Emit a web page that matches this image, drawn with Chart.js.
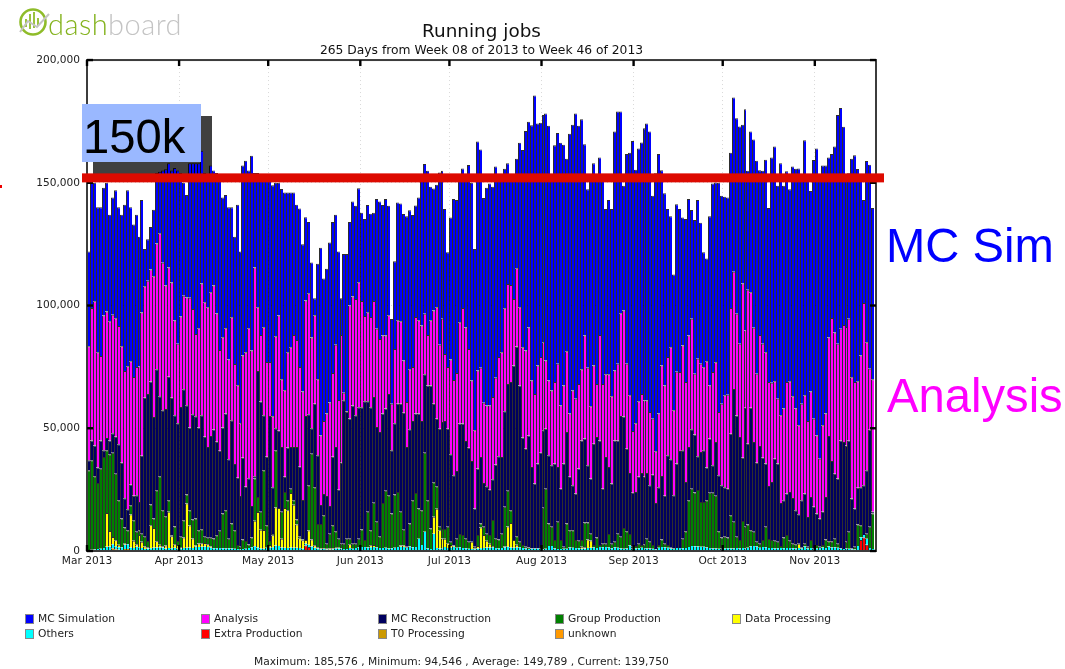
<!DOCTYPE html>
<html>
<head>
<meta charset="utf-8">
<title>Running jobs</title>
<script src="https://cdn.jsdelivr.net/npm/chart.js@4/dist/chart.umd.min.js"></script>
<style>
html,body{margin:0;padding:0;background:#fff;overflow:hidden}
#wrap{position:relative;width:1065px;height:669px}
canvas{position:absolute;left:0;top:0}
.t{position:absolute;white-space:nowrap;font-family:"DejaVu Sans",sans-serif;line-height:1}
.big{font-family:"Liberation Sans",Arial,sans-serif;font-size:47.2px}
.sw{position:absolute;width:9px;height:10px;box-sizing:border-box;border:1px solid #888}
.lg{font-size:10.7px;color:#222}
</style>
</head>
<body>
<div id="wrap">
<canvas id="c" width="1065" height="669"></canvas>
<div class="t big" style="left:83px;top:113px;color:#000">150k</div>
<div class="t big" style="left:886px;top:222px;color:#0000ff">MC Sim</div>
<div class="t big" style="left:887px;top:372px;color:#ff00ff">Analysis</div>
<div class="t" style="left:48px;top:9px;font-family:Lato,sans-serif;font-size:29px;font-weight:300;letter-spacing:.45px"><span style="color:#84b31e">dash</span><span style="color:#c4c4c4">board</span></div>
<div class="t" id="stats" style="left:254px;top:657px;font-size:10.7px;color:#222"></div>
<div id="legend"></div>
</div>
<script>
const titleText = "Running jobs";
const subtitleText = "265 Days from Week 08 of 2013 to Week 46 of 2013";
const statsText = "Maximum: 185,576 , Minimum: 94,546 , Average: 149,789 , Current: 139,750";
const monthLabels = ["Mar 2013","Apr 2013","May 2013","Jun 2013","Jul 2013","Aug 2013","Sep 2013","Oct 2013","Nov 2013"];
const monthStarts = [0,31,61,92,122,153,184,214,245];
const yTicks = [0,50000,100000,150000,200000];

// Height of the whole stack
const totalJobs = [
122,150,150,140,140,148,150,137,144,147,
140,137,141,147,140,133,137,128,143,123,
127,132,139,154,154.5,155,155.5,158,155,156,
155,154,150,145,158,158,158,158,163,154,
153,157,155,154,151,144,145,140,140,128,
141,122,157,159,155,161,154,154,152,152,
152,152,149,150,150,147.5,146,146,146,146,
141,139.5,125,136,134,117.5,103,117,123.5,111,
115,125.7,134,137,122,103,121,121,134,
142.4,140.6,147.8,137.8,135.2,140.9,137.4,137.8,143.4,142.4,
140.9,143.4,140.6,94.5,118,142,141.6,137.3,136.4,138.8,
136.9,140.7,144,150.8,157.6,154.9,148.4,147.7,149.2,154.2,
154.9,139.3,121.7,135.9,143.4,143,152,155.8,152.4,157.2,
150,123,166.8,163.6,143.8,148,149.7,148.4,156.6,152,
152,155.7,158,153,152,159.8,166.3,163.4,171.1,174.9,
173.4,185.6,174.1,174.5,177.6,178.2,173.2,153.5,165.3,170.3,
166.3,165.5,159.8,170,173.6,178.2,173.2,175.9,165.7,147.4,
153,158,153,160.3,153,139.3,143,139.3,170.9,179,
179,148.8,161.7,162.2,167,155.3,164,166.4,172.2,174.1,
170.9,144.7,153.9,161.7,155.1,145.7,139.3,136.4,112.6,141.3,
139.3,135.9,135.2,143.4,138.9,134.8,143,133.7,121.7,119.2,
136.4,149.7,150.1,150,144.7,144.3,144,162.2,184.7,176.3,
172.9,173.6,180,154.9,170.9,167.6,159,155.1,154.9,159.4,
139.7,160.3,164.8,148.8,158,148.8,154.7,147.4,156.6,155.7,
155.8,153.5,167.3,153,146.7,159.3,164,153,157,157,
160.3,161.7,164.8,177.6,180.5,172.8,153,153.9,159.8,161.2,
155.6,153,143,158.9,157.3,139.75];

// Level where magenta (Analysis) ends and blue begins
const analysisTop = [
83.4,99,101.7,81,79.4,95.9,97.6,93.6,96.2,94.8,
91.7,83.4,73.3,75.3,77.3,70.9,75,75.2,97.2,107.8,
110.1,114.7,111.9,125.3,129.4,117.4,108.2,115.5,109.4,93.9,
84.4,95.5,104,103.3,103.2,98.6,88.4,90.7,109,101.3,
99.3,105.4,108.2,96.8,81.9,87.1,90.7,78,95.2,76.2,
67.5,52,79.6,81,90.7,81.7,115.5,99.3,88,91.1,
77,77,54.9,87.5,95.9,70,65.5,81,83,88,
86,75,65,102,105,87,96,70,47,53,
56,60.5,72.5,84,61.5,88,64.5,57,100,
103.7,102.7,109.5,101.8,95.7,97.3,95.3,101.8,90.5,86.4,
87.8,87.8,96,60,82.3,94,93.6,77.6,60.7,74,
75,95.3,94,91.9,96.6,88,94,98,99.3,84,
94.6,80.3,75,78,69.7,72.5,93.2,99,91,82.3,
69.5,49.2,73.5,74.6,60.4,59.3,59.3,62.7,70.6,79,
81,98.9,108.8,108.4,102.7,115.2,99.3,83,81.7,91,
69.5,64,75.6,79,85,77.6,69.5,65.4,68.8,76.3,
59.3,67.4,81.4,56,65.4,62,68,74,87.8,74.6,
59,75.6,68,88,68,72,72,63,73.5,76.3,
96.9,98,76.3,63.4,48.9,52,61,64,61.3,61.3,
56.6,53.9,40.6,56,75.6,67.4,79,83,57.3,73,
72.9,83.7,68.8,87.8,94.6,72.2,78.3,76.3,74.9,77.3,
67.4,72.9,76.9,56.6,60,63.4,63.6,99,113.8,96.6,
84.4,109,89.8,106.4,105.4,90.9,72.2,88,84.4,81,
68.8,68.5,69.2,62,55.3,58,68.8,69.2,63,58,
51.2,60,63.4,53,65,53.9,47.1,37.6,51.2,56,
87,94.9,89,84.4,90.5,92.1,91.2,94.6,70.8,68.8,
69.2,79.6,101,85,74.2,70];

// Level where navy (MC Reconstruction) ends and magenta begins
const recoTop = [
37,45,43,34,45,41,46,45,48,46.5,
43.5,36,21.5,17,27,22.5,22.7,20,38.8,62.4,
64,69,54.6,74,63,57.3,57.8,71,62.4,55.3,
52,58.7,65.9,59.4,50.3,55.7,54.9,50.3,55.3,46.5,
42.4,46.8,49.5,44.5,40.8,50.3,56,37.4,53.3,35.4,
29.8,22.4,38,26.2,29.6,18.3,30.5,73.3,60.9,55.3,
38.4,55,26,50,49,42.4,30.2,42.2,42.4,42.4,
42.4,34.3,20.8,55,55.7,50,60,39,18.7,23.2,
22.4,18.3,38.4,42.4,25,36,61.4,56.7,54,
59.3,55.3,58.6,58.6,61,61,58.6,62.7,50.5,48.5,
56,58,64,41,52,60,60,56.3,42.4,49.6,
53,56,56,53,72,67.4,67.4,60,53.9,49.8,
52.5,53,49.8,39.4,30.9,32.6,51.9,51.9,44.8,42.1,
36.7,17.3,33.6,38.3,27.7,26.4,25,29.2,35.2,38.6,
38.3,56.9,68,68.8,75.6,83.3,67.4,46.2,41.7,47.1,
34.2,27.5,35.6,40,49.2,49.8,39,34.9,35.6,34.2,
25.4,35.6,48.5,30.2,26.8,23.4,33.6,45,45.8,34.9,
29.5,43.7,46.4,45,25.4,38.3,34.2,27.5,45,45,
55,54.8,41.7,31.8,23.7,24,30.2,31.8,30.2,31.8,
26.8,31.1,19.6,26,30.6,22.5,39,37.4,22.7,35.6,
40.7,41,28.1,42.4,49.6,47.5,38.6,40.3,41,34,
45.8,34.9,44.4,30.9,26.8,26,25.4,47.8,66,55.2,
46.4,38,58.4,43.7,58.4,44.4,36,42.8,38,35.6,
26.5,28.1,37.6,35.6,19.6,20.7,23.4,24,21.6,16.6,
15,20.7,23.4,13.9,22,18,15.3,13.2,16,22,
46.8,36.7,31.5,29.5,45,44.4,43,45,21.4,17.3,
25.8,26,26.8,32.9,49.4,16];

// Level where green (Group Production) ends and navy begins
const groupTop = [
32.9,37,30.4,27.7,33.5,38.3,41,39.4,40,31.5,
20.7,13.2,9.6,8.5,18.6,12.5,7.8,8.5,7,5.8,
4.1,18.9,13.2,24.7,30.4,16.6,14.2,20.7,6.4,10,
4.1,5.8,12.5,23,16.6,12.8,13.2,8.5,8.9,5.8,
5.4,5.4,5.1,6.4,8.2,15.3,16.6,5,11.2,8.5,
2.4,1.7,4.7,4.1,2.6,5.5,29.5,22,16,32.9,
10.5,4.1,6.9,41,17.3,16,24,20.7,25.4,20.7,
12.8,5.8,4.7,3,26.8,39.6,26,11,11,14.6,
3,7,10.5,8,5,3,3,5,5,
3,3,5,8.8,4.5,16,8.5,19.7,11.9,6,
19.6,24.5,22.7,15.3,23,24,16,8.7,1.7,11.2,
20.7,23.6,17.3,16.6,40,20.7,9.2,28,26.4,9.9,
9,9,9.9,3.8,1.7,5,6.9,6.5,5,3.8,
3,1.7,6.5,11.2,9.9,7,6.5,12.6,5,4.7,
7,18,24.5,16.6,4.5,6,3.8,2.4,1.7,1.4,
1,1,1,1,17.6,25.4,11.2,9.9,4.5,11.9,
4.5,1.7,11.2,8.5,8.5,4.5,4.2,4.5,11.6,11.6,
7,2.4,5.5,2.4,3,3,6.9,3,3.8,7,
5.8,9.4,8,6.9,1.7,2,3,2.4,2.8,5,
3.8,2.4,0.5,2.4,4.7,3,2.4,1.3,1,1,
1,5,8,20.7,25.4,23.8,24.8,20,20,20.7,
23.7,23.7,22.5,8,5.5,5.8,5.5,14.6,11.9,5.8,
4.5,12.2,9.9,10.8,8.5,7.8,3.8,3,4.5,9.9,
4.9,4.5,4.2,3.8,2,5.5,6.5,4.2,3,2.8,
3,1.5,3,1.7,4.5,1,2.4,1.7,2.4,4.7,
4,4,5,3,1,.7,3.8,7.8,1,1.7,
10.8,10.5,3,7,9.9,15.3];

const othersJobs = [
.4,.5,.6,.8,.9,1.2,1.7,1.8,1.6,1.2,
1.0,1.5,1.7,2.0,1.4,1.2,1.7,1.5,1.2,.8,
1.0,1.1,1.3,1.4,1.5,1.4,1.0,1.2,1.1,1.3,
.9,1.0,1.2,1.3,1.4,1.2,1.7,1.6,1.7,1.8,
1.6,1.3,1.1,1.1,1.2,1.1,1.0,1.1,1.0,.9,
.8,.7,.8,.9,1.2,1.5,1.9,1.4,1.0,.9,
1.3,1.4,1.5,2.2,2.0,1.4,1.3,1.2,1.4,1.3,
1.3,1.2,.9,.8,.9,1.8,1.3,1.0,.7,.8,
.6,.5,.7,1.1,1.0,1.0,.8,.8,1.2,
.9,1.2,1.5,1.6,1.6,1.4,1.5,1.6,1.4,1.2,
1.2,1.3,1.0,1.1,1.3,1.6,1.7,1.6,1.3,1.8,
1.5,1.6,5.0,2.4,7.8,1.0,.8,7.0,1.2,1.0,
1.1,1.6,1.2,1.4,1.7,1.3,1.5,1.2,1.1,.9,
.8,.7,1.0,1.1,1.2,1.4,1.4,1.5,1.2,1.0,
1.2,1.5,1.7,1.4,1.3,1.5,1.4,1.2,1.0,.8,
.9,1.0,1.0,.8,.7,.9,2.0,2.0,1.0,.8,
.8,.9,.9,1.4,1.3,1.2,1.1,.9,1.0,1.2,
1.3,1.4,1.2,1.6,1.5,1.6,1.4,1.1,1.5,1.3,
1.0,.9,1.0,2.2,1.0,1.0,1.1,1.3,1.2,1.0,
1.0,.9,.7,1.3,1.6,1.5,1.3,1.0,.8,1.2,
1.2,1.1,1.2,1.6,2.0,1.9,1.8,1.7,1.7,1.4,
1.2,1.0,1.0,.9,1.0,1.0,1.1,1.0,1.0,1.2,
1.0,1.2,1.0,1.3,1.8,2.0,1.8,1.3,1.6,1.5,
1.2,1.2,1.0,1.1,1.2,1.1,1.2,1.2,1.1,1.0,
1.2,1.0,1.8,1.0,1.2,.8,1.0,1.2,1.4,1.2,
1.8,1.4,1.5,1.3,1.0,.8,1.0,.9,.7,.6,
2.0,1.0,1.0,2.5,1.2,.8];

// Sparse series: most days are empty, so only the days with a mark are listed
const dataDays = [6,7,8,9,10,12,14,15,16,17,18,19,20,21,22,23,24,25,26,27,28,29,30,31,32,33,34,35,36,37,38,39,40,41,
56,57,58,59,61,62,63,64,65,66,67,68,69,70,71,72,73,74,75,76,77,78,79,80,81,82,83,84,88,
95,96,105,106,116,117,118,119,120,121,122,123,129,130,131,132,133,134,135,136,140,141,142,143,144,166,167,168,169,239];
const dataVals = [13.8,6.3,3,2.5,1,.5,13.5,3,1,5,2.6,1,.5,9.4,8.1,2.6,1,.5,1.2,14.8,4.9,1.5,1.5,.5,4.3,18.1,9,3.9,.5,1.5,1.5,1.5,1.2,.5,
10.4,14.5,7.7,7.7,1,4.9,15.5,15.5,3.6,16.2,15.4,22.2,17.5,9.5,4,3.5,1.5,5.9,2.9,1,.5,.4,.3,.3,.5,.4,.5,.3,1.5,
.8,.8,.5,.6,7,16,7.5,4,3.4,2,1,.5,3,.3,1,8.5,5.3,2.8,1.6,.5,.3,8.3,10,3.2,1,.8,.5,3.5,3,1.8];
const extraDays = [73,74,260,261,262];
const extraVals = [2.2,1.6,4.5,5.5,2.5];
const t0Days = [8,9,10,12,13];
const t0Vals = [.8,.7,.5,.8,.5];
const unknownDays = [8,13];
const unknownVals = [.3,.3];

const seriesNames = ["MC Simulation","Analysis","MC Reconstruction","Group Production","Data Processing","Others","Extra Production","T0 Processing","unknown"];
const seriesColors = ["#0000ff","#ff00ff","#00005f","#008000","#ffff00","#00ffff","#ff0000","#cc9900","#ff9900"];

const days = totalJobs.length;
function sparse(d,v){const a=new Array(days).fill(0);d.forEach((k,i)=>a[k]=v[i]);return a;}
const dataJobs = sparse(dataDays,dataVals), extraJobs = sparse(extraDays,extraVals),
      t0Jobs = sparse(t0Days,t0Vals), unknownJobs = sparse(unknownDays,unknownVals);
const under = totalJobs.map((_,i)=>unknownJobs[i]+t0Jobs[i]+extraJobs[i]+othersJobs[i]+dataJobs[i]);
const diff = (a,b)=>a.map((v,i)=>Math.max(0,v-(typeof b==="function"?b(i):b[i])));
const groupJobs = diff(groupTop,i=>under[i]);
const recoJobs = diff(recoTop,i=>Math.max(groupTop[i],under[i]));
const analysisJobs = diff(analysisTop,recoTop);
const mcJobs = diff(totalJobs,analysisTop);
const byName = {"MC Simulation":mcJobs,"Analysis":analysisJobs,"MC Reconstruction":recoJobs,"Group Production":groupJobs,
  "Data Processing":dataJobs,"Others":othersJobs,"Extra Production":extraJobs,"T0 Processing":t0Jobs,"unknown":unknownJobs};
const stackOrder = ["unknown","T0 Processing","Extra Production","Others","Data Processing","Group Production","MC Reconstruction","Analysis","MC Simulation"];
const thinSeries = ["unknown","T0 Processing","Others"];

const datasets = stackOrder.map(n=>({
  label:n,
  data:byName[n].map((v,i)=>({x:i+0.5,y:v*1000})),
  backgroundColor:seriesColors[seriesNames.indexOf(n)],
  borderColor:"rgba(0,0,0,0.82)",
  borderWidth:{top:thinSeries.includes(n)?0:1,left:1,right:0,bottom:0},
  borderSkipped:false,
  inflateAmount:0,
  barPercentage:1,categoryPercentage:1
}));

// Snap each bar the library laid out to whole pixels, so neighbours join without seams.
const snapBars = {
  id:"snapBars",
  afterDatasetsUpdate(chart){
    chart.data.datasets.forEach((_,d)=>{
      chart.getDatasetMeta(d).data.forEach(el=>{
        const l=Math.round(el.x-el.width/2), r=Math.round(el.x+el.width/2);
        el.x=(l+r)/2; el.width=r-l;
      });
    });
  }
};

const overlay = {
  id:"overlay",
  beforeDatasetsDraw(chart){
    const c=chart.ctx;
    c.save();c.fillStyle="#404040";c.fillRect(93,116,119,60);c.restore();
  },
  afterDatasetsDraw(chart){
    const c=chart.ctx,x=chart.scales.x,y=chart.scales.y,a=chart.chartArea;
    c.save();
    // frame
    c.strokeStyle="#3c3c3c";c.lineWidth=2;c.strokeRect(a.left,a.top,a.right-a.left,a.bottom-a.top);
    // inward tick marks
    c.fillStyle="#000";
    monthStarts.forEach(m=>{const p=x.getPixelForValue(m);
      c.fillRect(p-1.2,a.top,2.4,6);c.fillRect(p-1.2,a.bottom-6,2.4,6);});
    yTicks.forEach(v=>{const p=y.getPixelForValue(v);
      c.fillRect(a.left,p-1.2,6,2.4);c.fillRect(a.right-6,p-1.2,6,2.4);});
    // pasted annotation boxes
    c.fillStyle="#9ab8ff";c.fillRect(82,104,119,58);
    c.fillStyle="#dd0a00";c.fillRect(82,y.getPixelForValue(152000)-4.5,802,9);
    c.fillStyle="#ee0000";c.fillRect(0,185,2,3);
    // logo emblem
    c.strokeStyle="#8fbc2a";c.lineWidth=2.6;c.beginPath();c.arc(33,22,12.5,0,Math.PI*2);c.stroke();
    c.lineWidth=1.8;[26,30,34,38].forEach((px,i)=>{c.beginPath();c.moveTo(px,[27,29,28,26][i]);c.lineTo(px,[19,14,12,18][i]);c.stroke();});
    c.strokeStyle="#c4c4c4";c.lineWidth=2;c.beginPath();c.moveTo(20,32);c.lineTo(28,21);c.lineTo(37,27);c.lineTo(49,14);c.stroke();
    c.restore();
  }
};

new Chart(document.getElementById("c"),{
  type:"bar",
  data:{datasets},
  plugins:[snapBars,overlay],
  options:{
    responsive:false,animation:false,
    layout:{padding:{left:0,right:189,top:0,bottom:98}},
    plugins:{
      legend:{display:false},tooltip:{enabled:false},
      title:{display:true,text:titleText,fullSize:false,color:"#111",font:{family:"DejaVu Sans",size:18.4,weight:"normal",lineHeight:1.2},padding:{top:21,bottom:0}},
      subtitle:{display:true,text:subtitleText,fullSize:false,color:"#111",font:{family:"DejaVu Sans",size:12.3,weight:"normal",lineHeight:1.2},padding:{top:0,bottom:2.2}}
    },
    scales:{
      x:{type:"linear",offset:false,stacked:true,min:0,max:265.6,
        grid:{offset:false,color:"#d9d9d9",drawTicks:false,tickLength:0},border:{display:false,dash:[1,3]},
        afterBuildTicks(s){s.ticks=monthStarts.map(v=>({value:v}));},
        afterFit(s){s.height=20;},
        ticks:{autoSkip:false,maxRotation:0,padding:4,color:"#222",font:{family:"DejaVu Sans",size:10.6},
          callback:v=>monthLabels[monthStarts.indexOf(v)]}},
      y:{stacked:true,min:0,max:200000,
        grid:{color:"#d9d9d9",drawTicks:false,tickLength:0},border:{display:false,dash:[1,3]},
        afterBuildTicks(s){s.ticks=yTicks.map(v=>({value:v}));},
        afterFit(s){s.width=87;},
        ticks:{padding:7,color:"#222",font:{family:"DejaVu Sans",size:10.6},
          callback:v=>v.toLocaleString("en-US")}}
    }
  }
});

document.getElementById("stats").textContent = statsText;
const legendCols=[25,201,378,555,732], legendRows=[614,628.5];
const lg=document.getElementById("legend");
seriesNames.forEach((n,i)=>{
  const cx=legendCols[i%5], cy=legendRows[Math.floor(i/5)];
  const s=document.createElement("div");s.className="sw";s.style.left=cx+"px";s.style.top=cy+"px";s.style.background=seriesColors[i];lg.appendChild(s);
  const t=document.createElement("div");t.className="t lg";t.style.left=(cx+13)+"px";t.style.top=(cy)+"px";t.textContent=n;lg.appendChild(t);
});
</script>
</body>
</html>
